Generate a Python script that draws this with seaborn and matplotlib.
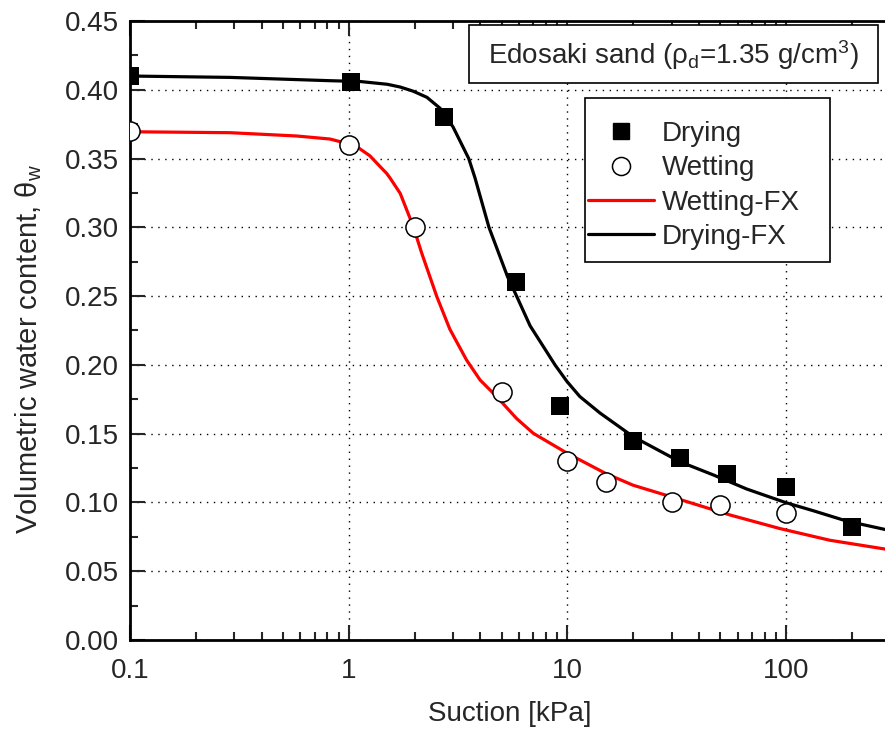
import numpy as np
import pandas as pd
import matplotlib
matplotlib.use("Agg")
import matplotlib.pyplot as plt
from matplotlib.lines import Line2D
from matplotlib.patches import Rectangle
from matplotlib.ticker import LogLocator, MultipleLocator, FixedLocator, NullFormatter
import seaborn as sns

# Measured soil-water retention data, Edosaki sand
drying_suction = [0.1, 1.02, 2.72, 5.8, 9.3, 20.0, 32.6, 53.5, 100.0, 200.0]
drying_theta = [0.410, 0.406, 0.380, 0.260, 0.170, 0.145, 0.132, 0.121, 0.111, 0.082]

wetting_suction = [0.1, 1.0, 2.0, 5.0, 10.0, 15.0, 30.0, 50.0, 100.0]
wetting_theta = [0.370, 0.360, 0.300, 0.180, 0.130, 0.115, 0.100, 0.098, 0.0925]

# Fredlund-Xing fitted curves (sampled)
drying_fx_suction = [0.1, 0.287, 0.821, 1.13, 1.50, 1.72, 1.97, 2.28, 2.62, 3.00,
                     3.54, 3.78, 4.38, 5.33, 5.86, 6.75, 8.78, 9.95, 11.4, 14.1,
                     20.0, 32.7, 46.5, 66.0, 100.0, 133.0, 189.0, 300.0]
drying_fx_theta = [0.410, 0.409, 0.4066, 0.406, 0.404, 0.402, 0.399, 0.3945, 0.3865, 0.373,
                   0.350, 0.336, 0.300, 0.264, 0.250, 0.2285, 0.200, 0.188, 0.177, 0.165,
                   0.1478, 0.1296, 0.1200, 0.1098, 0.0998, 0.094, 0.0865, 0.0795]

wetting_fx_suction = [0.1, 0.287, 0.579, 0.821, 1.05, 1.09, 1.25, 1.44, 1.49, 1.545,
                      1.72, 1.97, 2.16, 2.53, 2.90, 3.46, 3.99, 4.75, 5.86, 6.98,
                      10.0, 15.0, 20.0, 30.0, 55.4, 93.8, 158.8, 300.0]
wetting_fx_theta = [0.3695, 0.3688, 0.3664, 0.3642, 0.3598, 0.3586, 0.352, 0.3417, 0.3393, 0.3359,
                    0.3247, 0.301, 0.281, 0.2496, 0.226, 0.2035, 0.189, 0.1769, 0.161, 0.1503,
                    0.1357, 0.121, 0.1125, 0.104, 0.0909, 0.081, 0.0725, 0.0655]

y_ticks = [0.00, 0.05, 0.10, 0.15, 0.20, 0.25, 0.30, 0.35, 0.40, 0.45]
x_ticks = [0.1, 1, 10, 100]
x_tick_labels = ["0.1", "1", "10", "100"]

sns.set_style("ticks")
plt.rcParams["font.family"] = ["Liberation Sans", "DejaVu Sans"]
plt.rcParams["mathtext.fontset"] = "custom"
plt.rcParams["mathtext.rm"] = "Liberation Sans"
plt.rcParams["mathtext.it"] = "Liberation Sans:italic"

W, H = 885, 736
AX_L, AX_R, AX_T, AX_B = 130, 890.4, 21, 640
fig = plt.figure(figsize=(W / 100, H / 100), dpi=100)
ax = fig.add_axes([AX_L / W, (H - AX_B) / H, (AX_R - AX_L) / W, (AX_B - AX_T) / H])


def px_to_axes(px, py):
    """Pixel position in the figure -> axes fraction."""
    return (px - AX_L) / (AX_R - AX_L), (AX_B - py) / (AX_B - AX_T)


df_dry = pd.DataFrame({"s": drying_suction, "t": drying_theta})
df_wet = pd.DataFrame({"s": wetting_suction, "t": wetting_theta})
df_dfx = pd.DataFrame({"s": drying_fx_suction, "t": drying_fx_theta})
df_wfx = pd.DataFrame({"s": wetting_fx_suction, "t": wetting_fx_theta})

sns.lineplot(data=df_wfx, x="s", y="t", ax=ax, color="#ff0000", linewidth=2.3,
             estimator=None, sort=True, zorder=3)
sns.lineplot(data=df_dfx, x="s", y="t", ax=ax, color="black", linewidth=2.3,
             estimator=None, sort=True, zorder=3)
sns.scatterplot(data=df_dry, x="s", y="t", ax=ax, marker="s", s=150, color="black",
                edgecolor="black", linewidth=0, zorder=4)
sns.scatterplot(data=df_wet, x="s", y="t", ax=ax, marker="o", s=190, facecolor="white",
                edgecolor="black", linewidth=1.1, zorder=4)

ax.set_xscale("log")
ax.set_xlim(0.1, 300)
ax.set_ylim(0, 0.45)

ax.xaxis.set_major_locator(FixedLocator(x_ticks))
ax.set_xticklabels(x_tick_labels)
ax.xaxis.set_minor_locator(LogLocator(base=10, subs=np.arange(2, 10)))
ax.xaxis.set_minor_formatter(NullFormatter())
ax.yaxis.set_major_locator(FixedLocator(y_ticks))
ax.set_yticklabels([f"{v:.2f}" for v in y_ticks])
ax.yaxis.set_minor_locator(MultipleLocator(0.025))

ax.tick_params(which="major", direction="in", length=11, width=1.5, labelsize=20,
               top=True, right=False)
ax.tick_params(which="minor", direction="in", length=6, width=1.5, top=True, right=False)
ax.tick_params(axis="x", which="major", pad=13)
ax.tick_params(axis="y", which="major", pad=8)

ax.grid(True, which="major", color="black", linestyle=(0, (1, 4)), linewidth=1.0)
ax.set_axisbelow(True)
for side in ["left", "bottom", "top", "right"]:
    ax.spines[side].set_linewidth(2)
    ax.spines[side].set_color("black")

ax.set_xlabel("Suction [kPa]", fontsize=20, labelpad=12)
ax.set_ylabel(r"Volumetric water content, θ$_\mathregular{w}$", fontsize=21)
ax.yaxis.set_label_coords(px_to_axes(44, 0)[0], px_to_axes(0, 349)[1])

# legend: frame drawn separately
x0, y0 = px_to_axes(585, 262)
x1, y1 = px_to_axes(830, 98)
ax.add_patch(Rectangle((x0, y0), x1 - x0, y1 - y0, transform=ax.transAxes,
                       facecolor="white", edgecolor="black", linewidth=1.2, zorder=5))

handles = [
    Line2D([], [], marker="s", color="black", linestyle="none", markersize=12),
    Line2D([], [], marker="o", markerfacecolor="white", markeredgecolor="black",
           linestyle="none", markersize=13, markeredgewidth=1.1),
    Line2D([], [], color="#ff0000", linewidth=2.3),
    Line2D([], [], color="black", linewidth=2.3),
]
labels = ["Drying", "Wetting", "Wetting-FX", "Drying-FX"]
leg = ax.legend(handles, labels, loc="upper left",
                bbox_to_anchor=px_to_axes(588, 121),
                fontsize=20, frameon=False, handlelength=2.37,
                handletextpad=0.28, labelspacing=0.3, borderpad=0,
                borderaxespad=0)
leg.set_zorder(6)

# sample description box
x0, y0 = px_to_axes(469, 83)
x1, y1 = px_to_axes(878, 25)
ax.add_patch(Rectangle((x0, y0), x1 - x0, y1 - y0, transform=ax.transAxes,
                       facecolor="white", edgecolor="black", linewidth=1.2, zorder=5))
tx, ty = px_to_axes(673, 55)
ax.text(tx, ty, r"Edosaki sand (ρ$_\mathregular{d}$=1.35 g/cm$^\mathregular{3}$)",
        transform=ax.transAxes, ha="center", va="center", fontsize=20, zorder=6)

fig.savefig("out.png", dpi=100)
